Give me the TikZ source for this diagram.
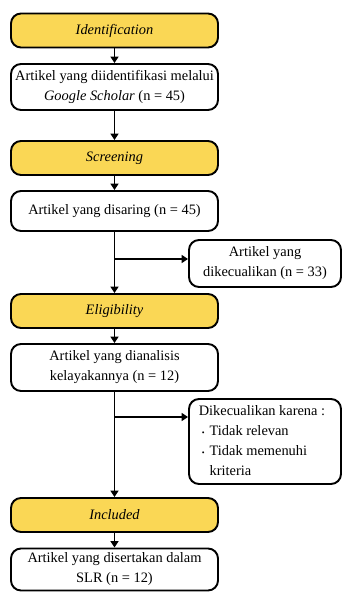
\documentclass[tikz,border=0pt]{standalone}
\usepackage{fontspec}
\setmainfont{Liberation Serif}
\usetikzlibrary{calc,arrows.meta}

\definecolor{stagegold}{RGB}{250,215,85}

\begin{document}
\begin{tikzpicture}[x=1pt, y=-1pt,
  stage/.style = {draw, line width=1.9pt, rounded corners=10pt, fill=stagegold, minimum width=\boxw pt, minimum height=34pt, font=\fontsize{14.4}{20}\selectfont\itshape},
  box/.style = {draw, line width=1.9pt, rounded corners=10pt, fill=white, minimum width=\boxw pt, align=center, inner sep=0pt, font=\fontsize{14.4}{20}\selectfont},
  flow/.style = {line width=1.9pt, -{Triangle[length=6.5pt, width=8pt]}}]
\pgfmathsetmacro{\boxw}{207} %main column width
\pgfmathsetmacro{\colx}{114.5} %main column centre
\pgfmathsetmacro{\sidex}{265} %side column centre
\useasboundingbox (0,0) rectangle (342,592);

% stages and boxes
\node[stage] (ident) at (\colx,30.5) {Identification};
\node[box, minimum height=46pt] (found) at (\colx,87) {Artikel yang diidentifikasi melalui\\\textit{Google Scholar} (n = 45)};
\node[stage] (screen) at (\colx,158) {Screening};
\node[box, minimum height=40pt] (screened) at (\colx,211) {Artikel yang disaring (n = 45)};
\node[box, minimum height=47pt, minimum width=152pt] (excl1) at (\sidex,263.5) {Artikel yang\\dikecualikan (n = 33)};
\node[stage] (elig) at (\colx,311) {Eligibility};
\node[box, minimum height=47pt] (assessed) at (\colx,367.5) {Artikel yang dianalisis\\kelayakannya (n = 12)};
\node[box, minimum height=85pt, minimum width=152pt] (excl2) at (\sidex,441.5) {%
  \begin{tabular}{@{}l@{}l}
  \multicolumn{2}{@{}l}{Dikecualikan karena :}\\
  \hspace*{3pt}{\footnotesize\textbullet}\hspace*{5pt} & Tidak relevan\\
  \hspace*{3pt}{\footnotesize\textbullet}\hspace*{5pt} & Tidak memenuhi\\
   & kriteria
  \end{tabular}};
\node[stage] (incl) at (\colx,515) {Included};
\node[box, minimum height=42pt] (included) at (\colx,569.5) {Artikel yang disertakan dalam\\SLR (n = 12)};

% connectors
\draw[flow] (ident) -- (found);
\draw[flow] (found) -- (screen);
\draw[flow] (screen) -- (screened);
\draw[flow] (screened) -- (elig);
\draw[flow] (elig) -- (assessed);
\draw[flow] (assessed) -- (incl);
\draw[flow] (incl) -- (included);

\coordinate (split1) at (\colx,259);
\coordinate (split2) at (\colx,417);
\draw[flow] (split1) -- (split1 -| excl1.west);
\draw[flow] (split2) -- (split2 -| excl2.west);

\end{tikzpicture}
\end{document}
